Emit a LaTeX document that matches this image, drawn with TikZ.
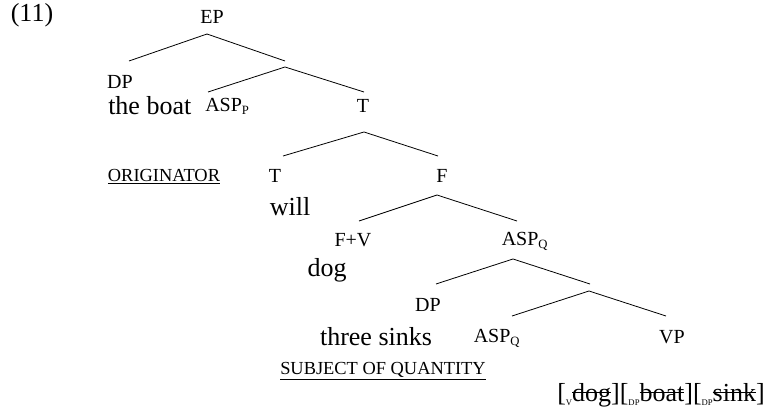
\documentclass[tikz,border=0pt]{standalone}
\usepackage{fontspec}
\setmainfont{Liberation Serif}
\newcommand{\bigf}{\fontsize{19.5}{22}\selectfont}
\newcommand{\smallf}{\fontsize{15}{18}\selectfont}
\newcommand{\capf}{\fontsize{13.8}{16}\selectfont}
\newcommand{\subf}[1]{\textsubscript{\fontsize{9.5}{10}\selectfont #1}}
\newcommand{\tinysub}[1]{\raisebox{-0.35ex}{\fontsize{6.5}{7}\selectfont #1}}
\newcommand{\strk}[1]{\setbox0\hbox{#1}\rlap{\raisebox{0.3em}{\rule{\wd0}{0.05em}}}\box0}
\begin{document}
\begin{tikzpicture}[x=0.75pt,y=-0.75pt,
  lab/.style={font=\smallf, inner sep=0pt},
  word/.style={font=\bigf, inner sep=0pt},
  role/.style={font=\capf, inner sep=0pt},
  branch/.style={line width=0.6pt}]
\useasboundingbox (0,0) rectangle (776,417);
% labels
\node[word] (num) at (32,15) {(11)};
\node[lab] (ep) at (212,17) {EP};
\node[lab] (dp1) at (120,82) {DP};
\node[word, anchor=west] (boat) at (108,106) {the boat};
\node[lab, anchor=west] (aspp) at (205,106) {ASP\subf{P}};
\node[lab] (t1) at (363,106) {T};
\node[role] (orig) at (164,177) {\underline{ORIGINATOR}};
\node[lab] (t2) at (275,176) {T};
\node[lab] (f1) at (442,176) {F};
\node[word] (will) at (290,207) {will};
\node[lab] (fv) at (353,240) {F+V};
\node[lab] (aspq1) at (525,241) {ASP\subf{Q}};
\node[word] (dog) at (327,270) {dog};
\node[lab] (dp2) at (428,305) {DP};
\node[word] (sinks) at (376,337) {three sinks};
\node[lab] (aspq2) at (497,338) {ASP\subf{Q}};
\node[lab] (vp) at (672,337) {VP};
\node[role] (subj) at (383,371) {\underline{SUBJECT OF QUANTITY}};
\node[word] (brk) at (661,395) {[\tinysub{V}\strk{dog}][\tinysub{DP}\strk{boat}][\tinysub{DP}\strk{sink}]};
% branch points
\coordinate (a1) at (207,34);  \coordinate (a1l) at (129,61);  \coordinate (a1r) at (285,61);
\coordinate (a2) at (285,67);  \coordinate (a2l) at (208,92);  \coordinate (a2r) at (364,92);
\coordinate (a3) at (364,132); \coordinate (a3l) at (283,156); \coordinate (a3r) at (438,156);
\coordinate (a4) at (437,195); \coordinate (a4l) at (359,221); \coordinate (a4r) at (517,221);
\coordinate (a5) at (513,259); \coordinate (a5l) at (436,284); \coordinate (a5r) at (590,284);
\coordinate (a6) at (589,291); \coordinate (a6l) at (512,316); \coordinate (a6r) at (666,316);
\foreach \p in {a1,a2,a3,a4,a5,a6}{
  \draw[branch] (\p l) -- (\p) -- (\p r);
}
\end{tikzpicture}
\end{document}
